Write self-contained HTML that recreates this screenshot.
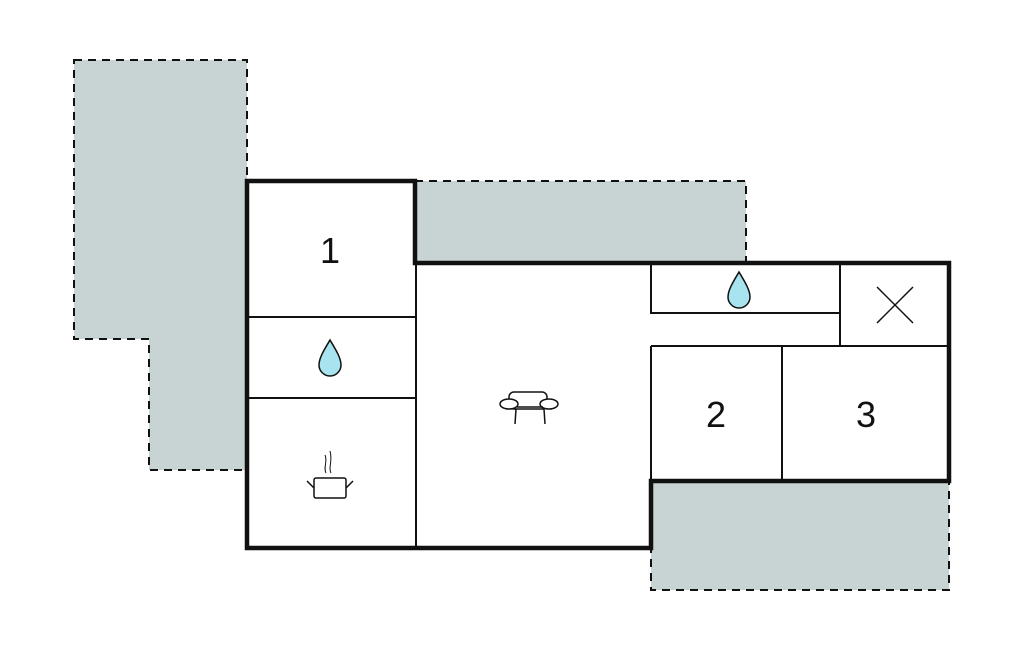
<!DOCTYPE html>
<html><head><style>body{margin:0;background:#fff}svg{display:block}</style></head><body>
<svg width="1024" height="652" viewBox="0 0 1024 652" xmlns="http://www.w3.org/2000/svg">
<g fill="#c8d3d3" stroke="#111" stroke-width="2" stroke-dasharray="8,6">
<polygon points="74,60 247,60 247,470 149,470 149,339 74,339"/>
<polygon points="415,181 746,181 746,262 415,262"/>
<polygon points="651,481 949,481 949,590 651,590"/>
</g>
<path d="M247,181 H415 V263 H949 V481 H651 V548 H247 Z" fill="#fff" stroke="none"/>
<g stroke="#111" stroke-width="2" fill="none">
<line x1="416" y1="263" x2="416" y2="548"/>
<line x1="247" y1="317" x2="416" y2="317"/>
<line x1="247" y1="398" x2="416" y2="398"/>
<polyline points="651,263 651,313 840,313"/>
<line x1="840" y1="263" x2="840" y2="346"/>
<line x1="651" y1="346" x2="949" y2="346"/>
<line x1="651" y1="346" x2="651" y2="481"/>
<line x1="782" y1="346" x2="782" y2="481"/>
<line x1="877" y1="287" x2="913" y2="323" stroke-width="1.5"/>
<line x1="913" y1="287" x2="877" y2="323" stroke-width="1.5"/>
</g>
<path d="M247,181 H415 V263 H949 V481 H651 V548 H247 Z" fill="none" stroke="#111" stroke-width="4.5"/>
<g font-family="Liberation Sans, sans-serif" font-size="36" text-anchor="middle" fill="#111">
<text x="330" y="263">1</text><text x="716" y="427">2</text><text x="866" y="427">3</text>
</g>
<g fill="#a8e4ef" stroke="#111" stroke-width="1.5">
<path d="M330,340 C324,350 319,358 319,365 A11,11 0 0 0 341,365 C341,358 336,350 330,340Z"/>
<path d="M739,272 C733,282 728,290 728,297 A11,11 0 0 0 750,297 C750,290 745,282 739,272Z"/>
</g>
<g stroke="#111" stroke-width="1.5" fill="#fff">
<rect x="509" y="392" width="38" height="17" rx="5"/>
<ellipse cx="509" cy="404" rx="9" ry="5"/><ellipse cx="549" cy="404" rx="9" ry="5"/>
<line x1="516" y1="409" x2="515" y2="424"/><line x1="544" y1="409" x2="545" y2="424"/>
<line x1="517" y1="407" x2="543" y2="407"/>
<rect x="314" y="478" width="32" height="20" rx="2"/>
<line x1="307" y1="481" x2="314" y2="488"/><line x1="353" y1="481" x2="346" y2="488"/>
<path d="M326,473 C323,467 328,462 325,455 M331,473 C328,467 333,462 330,451" fill="none" stroke-width="1"/>
</g>
</svg>
</body></html>
